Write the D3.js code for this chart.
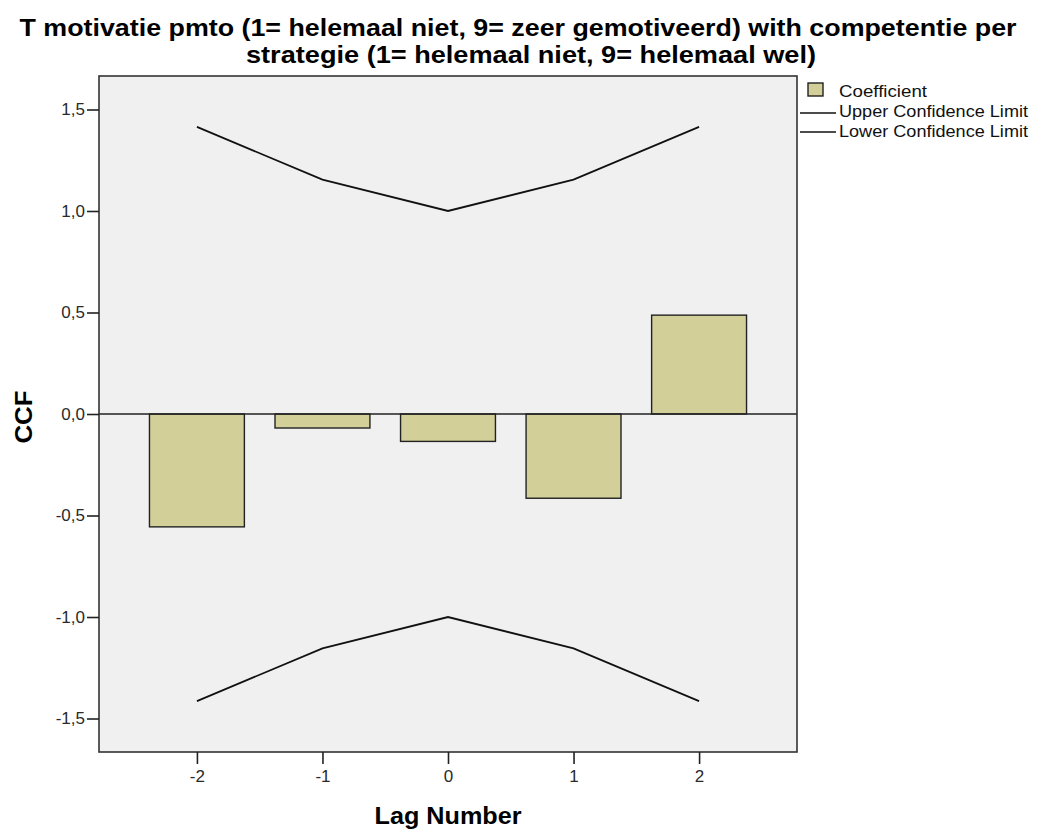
<!DOCTYPE html>
<html>
<head>
<meta charset="utf-8">
<script src="https://cdn.jsdelivr.net/npm/d3@7"></script>
<style>
  html, body { margin: 0; padding: 0; background: #fff; }
  svg { display: block; font-family: "Liberation Sans", Arial, sans-serif; }
</style>
</head>
<body>
<svg id="chart" width="1037" height="830"></svg>
<script>
// Cross-correlation coefficients by lag
const lags = [-2, -1, 0, 1, 2];
const coefficients = [-0.556, -0.069, -0.135, -0.415, 0.487];
const upperLimit = [1.414, 1.155, 1.0, 1.155, 1.414];
const lowerLimit = [-1.414, -1.155, -1.0, -1.155, -1.414];
const yTicks = [-1.5, -1.0, -0.5, 0.0, 0.5, 1.0, 1.5];
const titleLines = [
  "T motivatie pmto (1= helemaal niet, 9= zeer gemotiveerd) with competentie per",
  "strategie (1= helemaal niet, 9= helemaal wel)"
];
const legendItems = ["Coefficient", "Upper Confidence Limit", "Lower Confidence Limit"];

const svg = d3.select("#chart");
const plot = { left: 99, right: 797, top: 76, bottom: 752 };

const x = d3.scaleLinear().domain([-2.78, 2.78]).range([plot.left, plot.right]);
const y = d3.scaleLinear().domain([-1.665, 1.665]).range([plot.bottom, plot.top]);
const barHalf = 0.378;
const fmt = v => d3.format(".1f")(v).replace(".", ",").replace("−", "-");

// plot background
svg.append("rect")
  .attr("x", plot.left).attr("y", plot.top)
  .attr("width", plot.right - plot.left).attr("height", plot.bottom - plot.top)
  .attr("fill", "#f0f0f0");

// bars
svg.append("g").selectAll("rect")
  .data(lags.map((l, i) => ({ lag: l, v: coefficients[i] })))
  .join("rect")
  .attr("x", d => x(d.lag - barHalf))
  .attr("width", d => x(d.lag + barHalf) - x(d.lag - barHalf))
  .attr("y", d => y(Math.max(0, d.v)))
  .attr("height", d => Math.abs(y(d.v) - y(0)))
  .attr("fill", "#d3cf98")
  .attr("stroke", "#222")
  .attr("stroke-width", 1.4);

// zero reference line
svg.append("line")
  .attr("x1", plot.left).attr("x2", plot.right)
  .attr("y1", y(0)).attr("y2", y(0))
  .attr("stroke", "#222").attr("stroke-width", 1.7);

// confidence limits
const line = d3.line().x((d, i) => x(lags[i])).y(d => y(d));
[upperLimit, lowerLimit].forEach(arr => {
  svg.append("path")
    .attr("d", line(arr))
    .attr("fill", "none")
    .attr("stroke", "#111")
    .attr("stroke-width", 1.8);
});

// frame
svg.append("rect")
  .attr("x", plot.left).attr("y", plot.top)
  .attr("width", plot.right - plot.left).attr("height", plot.bottom - plot.top)
  .attr("fill", "none").attr("stroke", "#333").attr("stroke-width", 1.6);

// axes
const yAxis = d3.axisLeft(y).tickValues(yTicks).tickFormat(fmt).tickSize(12).tickPadding(2);
const gy = svg.append("g").attr("transform", `translate(${plot.left},0)`).call(yAxis);
const xAxis = d3.axisBottom(x).tickValues(lags).tickFormat(d3.format("d")).tickSize(12).tickPadding(6);
const gx = svg.append("g").attr("transform", `translate(0,${plot.bottom})`).call(xAxis);
[gx, gy].forEach(g => {
  g.select(".domain").remove();
  g.selectAll(".tick line").attr("stroke", "#222").attr("stroke-width", 1.6);
  g.selectAll(".tick text")
    .attr("fill", "#2a2a2a")
    .style("font-family", "'Liberation Sans', Arial, sans-serif")
    .style("font-size", "17px");
});
gx.selectAll(".tick text").text(d => String(d).replace("−", "-"));

// axis titles
svg.append("text")
  .attr("x", 448).attr("y", 824)
  .attr("text-anchor", "middle")
  .attr("textLength", 147).attr("lengthAdjust", "spacingAndGlyphs")
  .style("font-size", "23px").style("font-weight", "bold")
  .text("Lag Number");
svg.append("text")
  .attr("transform", `translate(32,417) rotate(-90)`)
  .attr("text-anchor", "middle")
  .attr("textLength", 53).attr("lengthAdjust", "spacingAndGlyphs")
  .style("font-size", "23px").style("font-weight", "bold")
  .text("CCF");

// title, two lines
const titleWidths = [997, 570];
const titleCenters = [518, 531];
const titleBaselines = [35.5, 62.5];
titleLines.forEach((t, i) => {
  svg.append("text")
    .attr("x", titleCenters[i]).attr("y", titleBaselines[i])
    .attr("text-anchor", "middle")
    .attr("textLength", titleWidths[i])
    .attr("lengthAdjust", "spacingAndGlyphs")
    .style("font-size", "24px").style("font-weight", "bold")
    .text(t);
});

// legend
const lg = svg.append("g");
lg.append("rect")
  .attr("x", 808).attr("y", 83).attr("width", 15).attr("height", 13)
  .attr("fill", "#d3cf98").attr("stroke", "#222").attr("stroke-width", 1.4);
[113, 132].forEach(yy => {
  lg.append("line")
    .attr("x1", 800).attr("x2", 836).attr("y1", yy).attr("y2", yy)
    .attr("stroke", "#111").attr("stroke-width", 1.6);
});
const legendWidths = [88, 189, 189];
legendItems.forEach((t, i) => {
  lg.append("text")
    .attr("x", 839).attr("y", 97 + i * 20)
    .attr("textLength", legendWidths[i]).attr("lengthAdjust", "spacingAndGlyphs")
    .style("font-size", "17px").attr("fill", "#111")
    .text(t);
});
</script>
</body>
</html>
